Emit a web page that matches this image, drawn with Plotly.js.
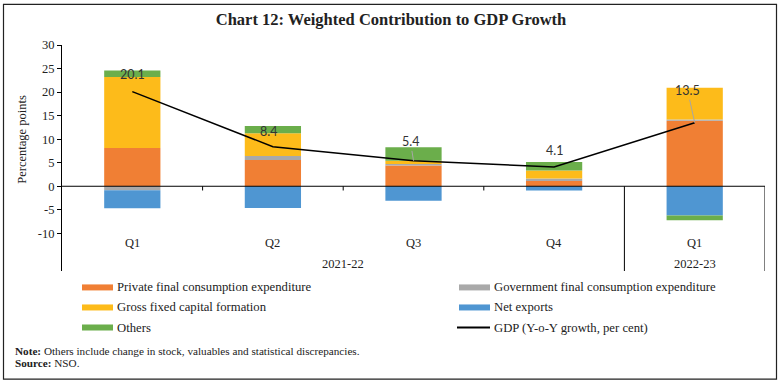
<!DOCTYPE html>
<html><head><meta charset="utf-8">
<script src="https://cdn.plot.ly/plotly-3.0.1.min.js"></script>
<style>html,body{margin:0;padding:0;background:#fff;}#chart{width:782px;height:384px;}</style>
</head><body><div id="chart"></div>
<script>
// ---- data ----
const categories = ['Q1', 'Q2', 'Q3', 'Q4', 'Q1'];
const yearLabels = ['2021-22', '2022-23'];
const pfce = [8.1, 5.6, 4.4, 1.1, 13.9];
const gfce = [-0.85, 0.85, 0.3, 0.55, 0.3];
const gfcf = [15.1, 4.8, 0.7, 1.7, 6.7];
const netExports = [-3.8, -4.6, -3.1, -0.9, -6.2];
const others = [1.4, 1.55, 2.9, 1.8, -1.0];
const gdp = [20.1, 8.4, 5.4, 4.1, 13.5];
const seriesNames = ['Private final consumption expenditure', 'Government final consumption expenditure',
  'Gross fixed capital formation', 'Net exports', 'Others', 'GDP (Y-o-Y growth, per cent)'];
const yTicks = [-10, -5, 0, 5, 10, 15, 20, 25, 30];

// ---- styling ----
const colors = ['#F07F34', '#A9A9A9', '#FDBB1A', '#4F96D2', '#6BAE4B', '#000000'];
const serif = 'Liberation Serif, Times New Roman, serif';
const W = 782, H = 384, L = 62, R = 17, T = 45, B = 113.4;
const pw = W - L - R, ph = H - T - B;
const px2x = p => (p - L) / pw;
const py2y = p => (H - B - p) / ph;

const xs = categories.map((_, i) => i);
const barVals = [pfce, gfce, gfcf, netExports, others];
const traces = barVals.map((v, k) => ({
  type: 'bar', x: xs, y: v, name: seriesNames[k], width: 0.4,
  marker: {color: colors[k], line: {width: 0}}, showlegend: false, hoverinfo: 'y'
}));
traces.push({type: 'scatter', mode: 'lines', x: xs, y: gdp, name: seriesNames[5],
  line: {color: '#000', width: 1.5}, showlegend: false});

const shapes = [];
const annotations = [];
shapes.push({type: 'line', xref: 'x', yref: 'y', x0: -0.5, x1: 4.5, y0: 0, y1: 0, line: {color: '#000', width: 1}});
[0.5, 1.5, 2.5].forEach(s => shapes.push({type: 'line', xref: 'x', yref: 'y', x0: s, x1: s, y0: 0, y1: -0.9, line: {color: '#000', width: 1}}));
[3.5, 4.5].forEach(s => shapes.push({type: 'line', xref: 'x', yref: 'y', x0: s, x1: s, y0: 0, y1: -18, line: {color: '#000', width: 1}}));
shapes.push({type: 'rect', xref: 'paper', yref: 'paper', x0: px2x(3.5), x1: px2x(776.5), y0: py2y(378.5), y1: py2y(4.5), line: {color: '#222', width: 1.2}, layer: 'above'});

categories.forEach((c, i) => annotations.push({xref: 'x', yref: 'paper', x: i, y: py2y(243), text: c, showarrow: false,
  font: {family: serif, size: 12.5, color: '#222'}, yanchor: 'middle'}));
annotations.push({xref: 'x', yref: 'paper', x: 1.5, y: py2y(264), text: yearLabels[0], showarrow: false, font: {family: serif, size: 12.5, color: '#222'}, yanchor: 'middle'});
annotations.push({xref: 'x', yref: 'paper', x: 4, y: py2y(264), text: yearLabels[1], showarrow: false, font: {family: serif, size: 12.5, color: '#222'}, yanchor: 'middle'});

const lblOff = [[0, -17, false], [-4, -15, false], [-3, -19, true], [0, -16, false], [-7, -32, true]];
gdp.forEach((g, i) => {
  const o = lblOff[i];
  annotations.push({xref: 'x', yref: 'y', x: i, y: g, text: g.toFixed(1), showarrow: true,
    ax: o[0], ay: o[1], arrowhead: 0, arrowwidth: 1, arrowcolor: o[2] ? '#A6A6A6' : 'rgba(0,0,0,0)',
    standoff: 0, font: {family: 'Lato, sans-serif', size: 12.5, color: '#333'}});
});

annotations.push({xref: 'paper', yref: 'paper', x: px2x(22), y: py2y(139.5), text: 'Percentage points', textangle: -90, showarrow: false,
  font: {family: serif, size: 12.5, color: '#222'}, xanchor: 'center', yanchor: 'middle'});

const legPos = [[82, 287], [459, 287], [82, 307], [459, 307], [82, 327], [459, 327]];
seriesNames.forEach((n, k) => {
  const [lx, ly] = legPos[k];
  if (k < 5) {
    shapes.push({type: 'rect', xref: 'paper', yref: 'paper', x0: px2x(lx), x1: px2x(lx + 31), y0: py2y(ly + 3), y1: py2y(ly - 3), fillcolor: colors[k], line: {width: 0}});
  } else {
    shapes.push({type: 'line', xref: 'paper', yref: 'paper', x0: px2x(lx - 2), x1: px2x(lx + 31), y0: py2y(ly), y1: py2y(ly), line: {color: '#000', width: 2}});
  }
  annotations.push({xref: 'paper', yref: 'paper', x: px2x(lx + 33), y: py2y(ly), text: n, showarrow: false, xanchor: 'left', yanchor: 'middle',
    font: {family: serif, size: 12.7, color: '#222'}});
});
annotations.push({xref: 'paper', yref: 'paper', x: px2x(13), y: py2y(350), text: '<b>Note:</b> Others include change in stock, valuables and statistical discrepancies.', showarrow: false, xanchor: 'left', yanchor: 'middle', font: {family: serif, size: 11.2, color: '#222'}});
annotations.push({xref: 'paper', yref: 'paper', x: px2x(13), y: py2y(362.5), text: '<b>Source:</b> NSO.', showarrow: false, xanchor: 'left', yanchor: 'middle', font: {family: serif, size: 11.2, color: '#222'}});

const layout = {
  width: W, height: H, margin: {l: L, r: R, t: T, b: B, pad: 0},
  paper_bgcolor: '#fff', plot_bgcolor: '#fff', barmode: 'relative', showlegend: false,
  title: {text: '<b>Chart 12: Weighted Contribution to GDP Growth</b>', x: 0.5, xref: 'container', y: 1 - 19 / H, yanchor: 'middle', xanchor: 'center',
    font: {family: serif, size: 16.5, color: '#222'}},
  xaxis: {range: [-0.5, 4.5], showgrid: false, zeroline: false, showline: false, showticklabels: false, ticks: '', fixedrange: true},
  yaxis: {range: [-18, 30], tickvals: yTicks, ticktext: yTicks.map(String), showgrid: false, zeroline: false, showline: true, linecolor: '#000', linewidth: 1,
    ticks: 'outside', ticklen: 4, tickcolor: '#000', tickfont: {family: serif, size: 12.5, color: '#222'}},
  shapes: shapes, annotations: annotations
};
Plotly.newPlot('chart', traces, layout, {staticPlot: true, displayModeBar: false});
</script></body></html>
